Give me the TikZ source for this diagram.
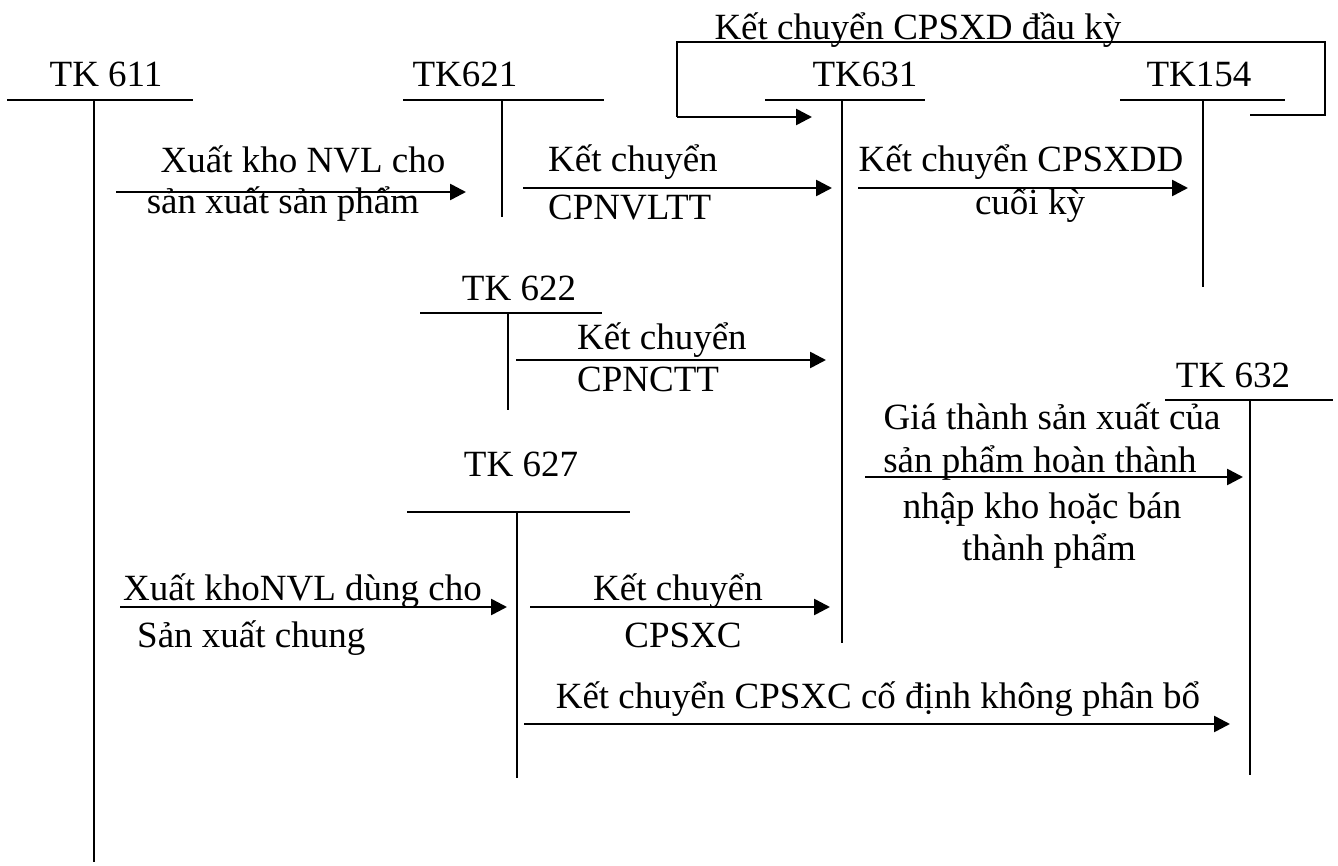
\documentclass[tikz,border=0pt]{standalone}
\usepackage{fontspec}
\setmainfont{Liberation Serif}
\usetikzlibrary{arrows.meta}
\begin{document}
\begin{tikzpicture}[x=1pt,y=-1pt,
  tline/.style={line width=1.9pt},
  flow/.style={line width=2.6pt,-{Triangle[length=16pt,width=16pt]}},
  plain/.style={line width=1.9pt},
  lbl/.style={font=\fontsize{37}{42}\selectfont,inner sep=0pt,anchor=base},
  lblw/.style={lbl,anchor=base west},
]
\useasboundingbox (0,0) rectangle (1338,866);

% ---- T accounts ----
% TK 611
\node[lbl] (t611) at (106,87) {TK 611};
\coordinate (t611l) at (7,100);   \coordinate (t611r) at (193,100);
\coordinate (t611t) at (94,100);  \coordinate (t611b) at (94,862);
\draw[tline] (t611l) -- (t611r) (t611t) -- (t611b);
% TK621
\node[lbl] (t621) at (465,87) {TK621};
\coordinate (t621l) at (403,100); \coordinate (t621r) at (604,100);
\coordinate (t621t) at (502,100); \coordinate (t621b) at (502,217);
\draw[tline] (t621l) -- (t621r) (t621t) -- (t621b);
% TK631
\node[lbl] (t631) at (865,87) {TK631};
\coordinate (t631l) at (765,100); \coordinate (t631r) at (925,100);
\coordinate (t631t) at (842,100); \coordinate (t631b) at (842,643);
\draw[tline] (t631l) -- (t631r) (t631t) -- (t631b);
% TK154
\node[lbl] (t154) at (1199,87) {TK154};
\coordinate (t154l) at (1120,100); \coordinate (t154r) at (1285,100);
\coordinate (t154t) at (1203,100); \coordinate (t154b) at (1203,287);
\draw[tline] (t154l) -- (t154r) (t154t) -- (t154b);
% TK 622
\node[lbl] (t622) at (519,301) {TK 622};
\coordinate (t622l) at (420,313); \coordinate (t622r) at (602,313);
\coordinate (t622t) at (508,313); \coordinate (t622b) at (508,410);
\draw[tline] (t622l) -- (t622r) (t622t) -- (t622b);
% TK 632
\node[lbl] (t632) at (1233,387) {TK 632};
\coordinate (t632l) at (1165,400); \coordinate (t632r) at (1333,400);
\coordinate (t632t) at (1250,400); \coordinate (t632b) at (1250,775);
\draw[tline] (t632l) -- (t632r) (t632t) -- (t632b);
% TK 627
\node[lbl] (t627) at (521,476) {TK 627};
\coordinate (t627l) at (407,512); \coordinate (t627r) at (630,512);
\coordinate (t627t) at (517,512); \coordinate (t627b) at (517,778);
\draw[tline] (t627l) -- (t627r) (t627t) -- (t627b);

% ---- opening balance loop 154 -> 631 ----
\coordinate (lpA) at (1250,115);
\coordinate (lpB) at (1325,115);
\coordinate (lpC) at (1325,42);
\coordinate (lpD) at (677,42);
\coordinate (lpE) at (677,117);
\coordinate (lpF) at (812,117);
\draw[plain] (lpA) -- (lpB) -- (lpC) -- (lpD) -- (lpE);
\draw[flow] (lpE) -- (lpF);
\node[lbl] (lbl0) at (918,40) {Kết chuyển CPSXD đầu kỳ};

% ---- 611 -> 621 ----
\coordinate (a1s) at (116,192); \coordinate (a1e) at (466,192);
\draw[flow] (a1s) -- (a1e);
\node[lbl] (l1a) at (303,173) {Xuất kho NVL cho};
\node[lbl] (l1b) at (283,214) {sản xuất sản phẩm};

% ---- 621 -> 631 ----
\coordinate (a2s) at (523,188); \coordinate (a2e) at (832,188);
\draw[flow] (a2s) -- (a2e);
\node[lblw] (l2a) at (548,172) {Kết chuyển};
\node[lblw] (l2b) at (548,220) {CPNVLTT};

% ---- 631 -> 154 ----
\coordinate (a3s) at (858,188); \coordinate (a3e) at (1188,188);
\draw[flow] (a3s) -- (a3e);
\node[lbl] (l3a) at (1021,172) {Kết chuyển CPSXDD};
\node[lbl] (l3b) at (1030,215) {cuối kỳ};

% ---- 622 -> 631 ----
\coordinate (a4s) at (516,360); \coordinate (a4e) at (826,360);
\draw[flow] (a4s) -- (a4e);
\node[lblw] (l4a) at (577,349) {Kết chuyển};
\node[lblw] (l4b) at (577,391) {CPNCTT};

% ---- 631 -> 632 ----
\coordinate (a5s) at (865,477); \coordinate (a5e) at (1243,477);
\draw[flow] (a5s) -- (a5e);
\node[lbl] (l5a) at (1052,429) {Giá thành sản xuất của};
\node[lbl] (l5b) at (1040,472) {sản phẩm hoàn thành};
\node[lbl] (l5c) at (1042,518) {nhập kho hoặc bán};
\node[lbl] (l5d) at (1049,560) {thành phẩm};

% ---- 611 -> 627 ----
\coordinate (a6s) at (120,607); \coordinate (a6e) at (507,607);
\draw[flow] (a6s) -- (a6e);
\node[lblw] (l6a) at (123,600) {Xuất khoNVL dùng cho};
\node[lblw] (l6b) at (137,647) {Sản xuất chung};

% ---- 627 -> 631 ----
\coordinate (a7s) at (530,607); \coordinate (a7e) at (830,607);
\draw[flow] (a7s) -- (a7e);
\node[lbl] (l7a) at (678,600) {Kết chuyển};
\node[lbl] (l7b) at (683,647) {CPSXC};

% ---- 627 -> 632 ----
\coordinate (a8s) at (524,724); \coordinate (a8e) at (1230,724);
\draw[flow] (a8s) -- (a8e);
\node[lbl] (l8) at (878,708) {Kết chuyển CPSXC cố định không phân bổ};

\end{tikzpicture}
\end{document}
